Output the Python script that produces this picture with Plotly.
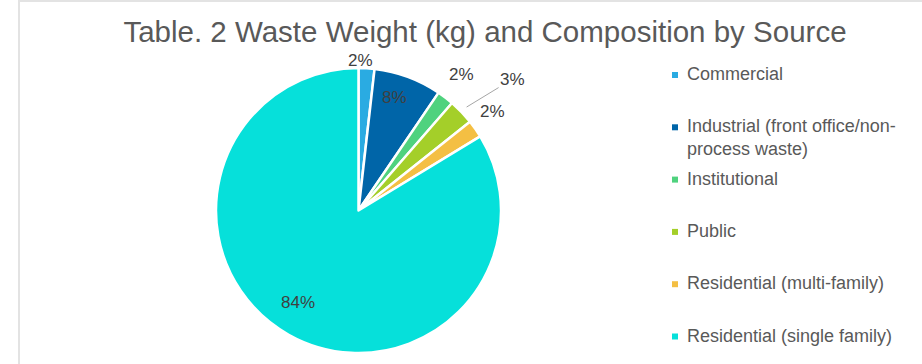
import math
import plotly.graph_objects as go

# ---- data ----
categories = [
    "Commercial",
    "Industrial (front office/non-process waste)",
    "Institutional",
    "Public",
    "Residential (multi-family)",
    "Residential (single family)",
]
legend_labels = [
    "Commercial",
    "Industrial (front office/non-<br>process waste)",
    "Institutional",
    "Public",
    "Residential (multi-family)",
    "Residential (single family)",
]
shares = [1.8, 7.7, 1.9, 2.9, 2.0, 83.7]
colors = ["#2AABE2", "#0065A8", "#4FD27E", "#A4CF29", "#F4BF43", "#06E0DA"]
title_text = "Table. 2 Waste Weight (kg) and Composition by Source"

# label styling: radial distance (in radii) and angle nudge (deg) per slice
label_radius = [1.055, 0.83, 1.20, 1.05, 1.17, 0.77]
label_angle_nudge = [-2.5, -2.5, -0.5, 0, -1.5, 4]
leader = [False, False, False, True, False, False]

W, H = 922, 364
FONT = "Liberation Sans, Arial, sans-serif"
DOM_X = (216, 501)   # pixel extent of the pie domain
DOM_Y = (68, 353)

fig = go.Figure()
fig.add_trace(go.Pie(
    labels=categories,
    values=shares,
    sort=False,
    direction="clockwise",
    rotation=0,
    marker=dict(colors=colors, line=dict(color="white", width=2.5)),
    textinfo="none",
    domain=dict(x=[DOM_X[0] / W, DOM_X[1] / W],
                y=[(H - DOM_Y[1]) / H, (H - DOM_Y[0]) / H]),
    showlegend=False,
    hoverinfo="label+percent",
))

# percentage labels placed at each slice's mid-angle
cx = (DOM_X[0] + DOM_X[1]) / 2
cy = (DOM_Y[0] + DOM_Y[1]) / 2
R = min(DOM_X[1] - DOM_X[0], DOM_Y[1] - DOM_Y[0]) / 2
total = sum(shares)
cum = 0.0
for i, v in enumerate(shares):
    mid = (cum + v / 2) / total * 360 + label_angle_nudge[i]
    cum += v
    a = math.radians(mid)
    r = R * label_radius[i]
    px = cx + r * math.sin(a)
    py = cy - r * math.cos(a)
    txt = f"{round(v / total * 100):d}%"
    if leader[i]:
        fig.add_annotation(
            x=px / W, y=1 - py / H, xref="paper", yref="paper",
            text=txt, showarrow=True, arrowhead=0, arrowwidth=1,
            arrowcolor="#A6A6A6", ax=46, ay=-28, standoff=0,
            font=dict(family=FONT, size=17, color="#404040"),
        )
    else:
        fig.add_annotation(
            x=px / W, y=1 - py / H, xref="paper", yref="paper",
            text=txt, showarrow=False, xanchor="center", yanchor="middle",
            font=dict(family=FONT, size=17, color="#404040"),
        )

# legend drawn as annotations + colour squares
first_y = 75
step = 52.3
for i, (lab, col) in enumerate(zip(legend_labels, colors)):
    yc = first_y + step * i
    fig.add_annotation(
        x=685 / W, y=1 - (yc - 13) / H, xref="paper", yref="paper",
        xanchor="left", yanchor="top", align="left", showarrow=False,
        text=lab, font=dict(family=FONT, size=18, color="#595959"),
    )
    fig.add_shape(
        type="rect", xref="paper", yref="paper",
        x0=672 / W, x1=678 / W, y0=1 - (yc + 3) / H, y1=1 - (yc - 3) / H,
        fillcolor=col, line=dict(width=0),
    )

# light frame (left and top edges)
fig.add_shape(type="line", xref="paper", yref="paper",
              x0=19 / W, x1=19 / W, y0=0, y1=1,
              line=dict(color="#E3E3E3", width=2))
fig.add_shape(type="line", xref="paper", yref="paper",
              x0=19 / W, x1=1, y0=1 - 1 / H, y1=1 - 1 / H,
              line=dict(color="#E3E3E3", width=2))

fig.update_layout(
    width=W, height=H,
    margin=dict(l=0, r=0, t=0, b=0),
    paper_bgcolor="white", plot_bgcolor="white",
    font=dict(family=FONT, color="#595959"),
    title=dict(text=title_text, x=485 / W, xanchor="center",
               y=1 - 32 / H, yanchor="middle",
               font=dict(family=FONT, size=29.5, color="#595959")),
    showlegend=False,
)

fig.write_html("out.html")
